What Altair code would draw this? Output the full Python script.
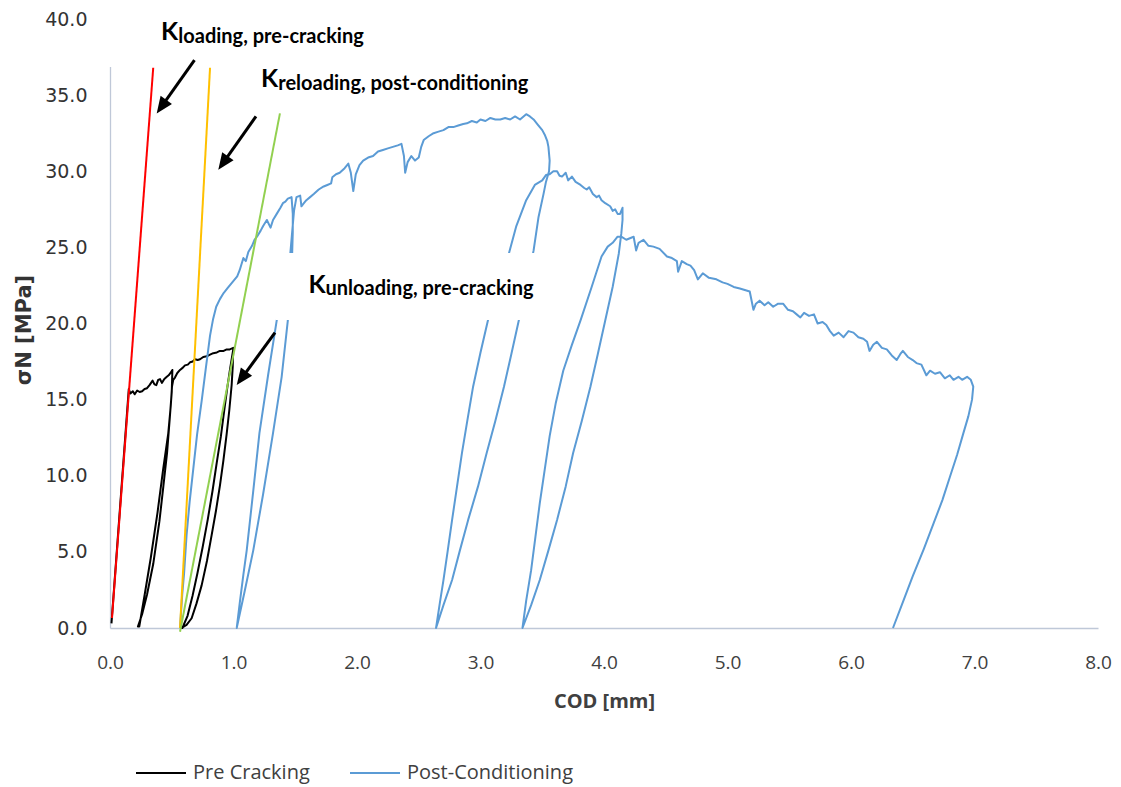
import math
import altair as alt
import pandas as pd

# ---------------- data ----------------
pre_x = [0.012, 0.152, 0.165, 0.185, 0.200, 0.220, 0.240, 0.260, 0.280, 0.300, 0.320, 0.345,
         0.360, 0.375, 0.390, 0.405, 0.420, 0.440, 0.460, 0.475, 0.490, 0.505,
         0.500, 0.485, 0.462, 0.432, 0.400, 0.350, 0.300, 0.260, 0.226,
         0.237, 0.283, 0.330, 0.385, 0.430, 0.472, 0.492, 0.502, 0.512, 0.526, 0.545, 0.567,
         0.590, 0.607, 0.630, 0.648, 0.670, 0.688, 0.710, 0.729, 0.755, 0.783, 0.810, 0.836,
         0.865, 0.890, 0.920, 0.945, 0.970, 0.998,
         0.994, 0.985, 0.966, 0.944, 0.918, 0.891, 0.858, 0.823, 0.785, 0.742, 0.700, 0.661, 0.620, 0.580,
         0.586, 0.628, 0.668, 0.708, 0.750, 0.791, 0.830, 0.865, 0.898, 0.925, 0.950, 0.972, 0.990, 1.000]
pre_y = [0.3, 15.7, 15.4, 15.55, 15.35, 15.6, 15.5, 15.55, 15.7, 15.75, 15.95, 16.25,
         16.0, 15.95, 16.3, 16.35, 16.1, 16.35, 16.5, 16.6, 16.75, 16.95,
         15.5, 13.9, 11.5, 9.3, 7.0, 4.2, 2.2, 0.9, 0.1,
         0.1, 2.3, 4.6, 7.6, 10.4, 12.8, 14.6, 15.85, 16.3, 16.45, 16.75, 16.95,
         17.1, 17.25, 17.3, 17.45, 17.5, 17.65, 17.6, 17.65, 17.8, 17.85, 17.95, 18.05,
         18.1, 18.2, 18.2, 18.3, 18.3, 18.4,
         17.2, 15.96, 14.3, 12.7, 11.0, 9.4, 7.7, 6.1, 4.4, 2.8, 1.6, 0.64, 0.2, 0.0,
         0.0, 0.8, 2.1, 3.6, 5.3, 7.1, 9.0, 10.9, 12.6, 14.3, 15.8, 17.0, 17.9, 18.4]

post_x = [0.567, 0.575, 0.585, 0.600, 0.620, 0.645, 0.675, 0.705, 0.742, 0.775, 0.810, 0.835,
          0.860, 0.890, 0.920, 0.950, 0.970, 1.000, 1.030, 1.050, 1.080, 1.100, 1.120, 1.150,
          1.170, 1.190, 1.220, 1.240, 1.270, 1.300, 1.320, 1.350, 1.380, 1.400, 1.420, 1.440,
          1.470, 1.480,
          1.480, 1.475, 1.440, 1.390, 1.320, 1.240, 1.160, 1.090, 1.026,
          1.050, 1.080, 1.107, 1.160, 1.210, 1.280, 1.350, 1.410, 1.460, 1.475, 1.490, 1.510,
          1.540, 1.550, 1.570, 1.590, 1.620, 1.650, 1.690, 1.730, 1.760, 1.790, 1.800, 1.830,
          1.860, 1.900, 1.930, 1.950, 1.970, 1.990, 2.020, 2.050, 2.090, 2.130, 2.170, 2.210,
          2.250, 2.290, 2.330, 2.360, 2.380, 2.390, 2.410, 2.440, 2.470, 2.500, 2.520, 2.540,
          2.580, 2.620, 2.660, 2.700, 2.740, 2.780, 2.820, 2.860, 2.890, 2.930, 2.970, 3.000,
          3.040, 3.080, 3.120, 3.160, 3.200, 3.240, 3.280, 3.320, 3.370, 3.400, 3.430, 3.460,
          3.480, 3.500, 3.520, 3.540, 3.550, 3.560, 3.555,
          3.530, 3.510, 3.470, 3.430, 3.370, 3.310, 3.250, 3.190, 3.120, 3.050, 2.980, 2.900,
          2.830, 2.770, 2.700, 2.640,
          2.670, 2.700, 2.735, 2.770, 2.810, 2.850, 2.895, 2.940, 3.000, 3.060, 3.140, 3.230,
          3.290, 3.370, 3.440, 3.500, 3.530, 3.560, 3.590, 3.620, 3.640, 3.660, 3.690, 3.710,
          3.740, 3.770, 3.810, 3.840, 3.860, 3.880, 3.910, 3.940, 3.960, 3.980, 4.010, 4.050,
          4.070, 4.090, 4.110, 4.130, 4.150, 4.150, 4.140,
          4.120, 4.070, 4.010, 3.950, 3.890, 3.820, 3.750, 3.690, 3.620, 3.550, 3.480, 3.410, 3.340,
          3.370, 3.410, 3.445, 3.480, 3.520, 3.560, 3.610, 3.670, 3.740, 3.810, 3.900, 3.980,
          4.030, 4.070, 4.110, 4.140,
          4.180, 4.210, 4.240, 4.260, 4.280, 4.320, 4.360, 4.400, 4.450, 4.510, 4.550, 4.590,
          4.600, 4.630, 4.670, 4.700, 4.730, 4.760, 4.800, 4.850, 4.910, 4.960, 5.000, 5.050,
          5.100, 5.140, 5.180, 5.210, 5.230, 5.260, 5.300, 5.330, 5.370, 5.410, 5.450, 5.490,
          5.530, 5.560, 5.590, 5.620, 5.660, 5.700, 5.730, 5.770, 5.800, 5.830, 5.860, 5.900,
          5.940, 5.980, 6.020, 6.060, 6.100, 6.130, 6.150, 6.180, 6.210, 6.250, 6.290, 6.330,
          6.370, 6.400, 6.420, 6.460, 6.500, 6.530, 6.570, 6.610, 6.640, 6.680, 6.720, 6.760,
          6.800, 6.830, 6.870, 6.900, 6.940, 6.970, 6.990,
          6.980, 6.950, 6.910, 6.860, 6.800, 6.740, 6.670, 6.590, 6.500, 6.420, 6.340]
post_y = [0.0, 1.0, 2.2, 3.6, 6.1, 8.3, 10.5, 12.7, 14.9, 17.0, 19.2, 20.3,
          21.1, 21.6, 22.0, 22.3, 22.5, 22.8, 23.1, 23.5, 24.3, 24.1, 24.7, 25.1,
          25.5, 25.7, 26.1, 26.4, 26.8, 26.3, 26.8, 27.2, 27.6, 27.9, 28.0, 28.2,
          28.3, 27.2,
          26.0, 24.6, 20.2, 16.5, 12.8, 8.8, 5.1, 2.4, 0.0,
          1.6, 3.5, 5.1, 9.0, 12.8, 16.6, 20.2, 22.6, 24.6, 26.0, 27.4, 28.3,
          28.4, 27.7, 27.9, 28.1, 28.3, 28.5, 28.8, 29.0, 29.1, 29.2, 29.6, 29.8,
          29.9, 30.2, 30.5, 29.9, 28.7, 29.8, 30.4, 30.7, 30.9, 31.0, 31.3, 31.4,
          31.5, 31.6, 31.7, 31.8, 31.0, 29.9, 30.6, 31.0, 30.7, 30.9, 31.6, 32.05,
          32.3, 32.5, 32.6, 32.7, 32.9, 32.9, 33.0, 33.1, 33.15, 33.3, 33.2, 33.4,
          33.3, 33.5, 33.4, 33.4, 33.5, 33.4, 33.6, 33.4, 33.75, 33.6, 33.4, 33.1,
          32.9, 32.7, 32.4, 32.0, 31.6, 30.7, 30.0,
          29.3, 28.5, 27.0, 24.8, 22.4, 20.2, 18.0, 15.85, 13.6, 11.5, 9.3, 7.1,
          5.0, 3.15, 1.5, 0.0,
          1.6, 3.15, 5.1, 7.1, 9.3, 11.5, 13.7, 15.85, 18.1, 20.2, 22.5, 24.6,
          26.4, 28.1, 29.1, 29.4, 29.75, 29.8, 30.0, 30.0, 29.7, 29.65, 29.9, 29.4,
          29.65, 29.3, 29.1, 28.9, 28.8, 28.95, 28.5, 28.3, 28.4, 28.1, 27.9, 27.7,
          27.4, 27.5, 27.2, 27.2, 27.6, 26.8, 25.9,
          24.6, 22.4, 20.2, 18.0, 15.85, 13.6, 11.5, 9.3, 7.1, 5.1, 3.15, 1.5, 0.0,
          1.8, 3.8, 6.0, 8.2, 10.4, 12.6, 14.8, 16.9, 18.6, 20.2, 22.4, 24.4,
          25.05, 25.3, 25.7, 25.7,
          25.5, 25.6, 25.7, 24.8, 25.3, 25.5, 25.1, 25.05, 24.9, 24.4, 24.3, 24.1,
          23.4, 24.1, 23.9, 23.8, 23.5, 22.9, 23.3, 23.0, 22.9, 22.7, 22.6, 22.4,
          22.3, 22.2, 22.1, 20.9, 21.3, 21.5, 21.2, 21.4, 21.1, 21.3, 21.3, 20.9,
          20.8, 20.6, 20.4, 20.7, 20.5, 20.6, 20.0, 20.1, 19.9, 19.5, 19.2, 19.4,
          19.1, 19.5, 19.4, 19.1, 19.0, 18.8, 18.2, 18.6, 18.8, 18.4, 18.3, 17.9,
          17.6, 18.0, 18.2, 17.8, 17.6, 17.4, 17.3, 16.6, 16.9, 16.7, 16.8, 16.4,
          16.6, 16.3, 16.5, 16.3, 16.5, 16.3, 15.85,
          15.0, 13.9, 12.8, 11.4, 9.9, 8.4, 6.9, 5.2, 3.4, 1.7, 0.0]

series_names = ["Pre Cracking", "Post-Conditioning"]
series_colors = ["#000000", "#5B9BD5"]

# stiffness lines (start / end)
k_x0 = [0.016, 0.567, 0.567]
k_y0 = [0.66, 0.0, -0.25]
k_x1 = [0.350, 0.810, 1.376]
k_y1 = [36.8, 36.8, 33.8]
k_colors = ["#FF0000", "#FFC000", "#92D050"]

# annotation labels
lab_sub = ["loading, pre-cracking", "reloading, post-conditioning", "unloading, pre-cracking"]
lab_kx = [0.413, 1.222, 1.608]
lab_ky = [38.6, 35.53, 22.0]
lab_sx = [0.553, 1.362, 1.745]
lab_sy = [38.4, 35.34, 21.87]

# arrows (tail -> tip)
arr_tx = [0.684, 1.182, 1.336]
arr_ty = [37.3, 33.6, 19.4]
arr_hx = [0.378, 0.877, 1.026]
arr_hy = [33.8, 30.1, 15.96]

# white label backgrounds that hide parts of the plot
box_x0 = [-0.10, 1.34]
box_x1 = [2.00, 3.78]
box_y0 = [36.85, 20.23]
box_y1 = [40.60, 24.63]

# ---------------- chart ----------------
W, H = 988, 609
XMAX, YMAX = 8, 40
SX, SY = W / XMAX, H / YMAX

rows = []
for name, xs, ys in [(series_names[0], pre_x, pre_y), (series_names[1], post_x, post_y)]:
    for i, (a, b) in enumerate(zip(xs, ys)):
        rows.append({"series": name, "i": i, "x": a, "y": b})
curves = pd.DataFrame(rows)

xscale = alt.Scale(domain=[0, XMAX], nice=False, zero=False)
yscale = alt.Scale(domain=[0, YMAX], nice=False, zero=False)

x_axis = alt.Axis(values=list(range(0, 9)), format=".1f", title="COD [mm]",
                  labelFont="Open Sans", labelFontSize=19, labelColor="#404040",
                  labelPadding=40, labelBaseline="alphabetic", labelFlush=False,
                  labelOverlap=False,
                  titleFont="Open Sans", titleFontSize=20, titleFontWeight="bold",
                  titleColor="#404040", titleY=79, titleBaseline="alphabetic")
y_axis = alt.Axis(values=list(range(0, 41, 5)), format=".1f", title="σN [MPa]",
                  labelFont="DejaVu Sans", labelFontSize=19, labelColor="#333333",
                  labelPadding=23, labelFlush=False, labelOverlap=False,
                  titleFont="DejaVu Sans", titleFontSize=21, titleFontWeight="bold",
                  titleColor="#333333", titleAngle=270, titleX=-86, titleY=H / 2 + 6,
                  titleAlign="center", titleBaseline="middle")

lines = alt.Chart(curves).mark_line(strokeWidth=2, strokeJoin="round").encode(
    x=alt.X("x:Q", scale=xscale, axis=x_axis),
    y=alt.Y("y:Q", scale=yscale, axis=y_axis),
    color=alt.Color("series:N",
                    scale=alt.Scale(domain=series_names, range=series_colors),
                    legend=alt.Legend(orient="none", legendX=25, legendY=728,
                                      direction="horizontal", title=None,
                                      symbolType="stroke", symbolSize=2500,
                                      symbolStrokeWidth=2,
                                      labelFont="Open Sans", labelFontSize=20,
                                      labelColor="#404040", labelOffset=6,
                                      labelLimit=0, columnPadding=36)),
    order=alt.Order("i:Q"),
)

layers = [lines]
for j in range(3):
    kdf = pd.DataFrame({"x": [k_x0[j]], "y": [k_y0[j]], "x2": [k_x1[j]], "y2": [k_y1[j]]})
    layers.append(alt.Chart(kdf).mark_rule(color=k_colors[j], strokeWidth=2).encode(
        x=alt.X("x:Q", scale=xscale), y=alt.Y("y:Q", scale=yscale), x2="x2:Q", y2="y2:Q"))

boxes = pd.DataFrame({"x": box_x0, "x2": box_x1, "y": box_y0, "y2": box_y1})
layers.append(alt.Chart(boxes).mark_rect(fill="white", stroke=None).encode(
    x=alt.X("x:Q", scale=xscale), x2="x2:Q", y=alt.Y("y:Q", scale=yscale), y2="y2:Q"))

# arrows
arows = []
for tx, ty, hx, hy in zip(arr_tx, arr_ty, arr_hx, arr_hy):
    dxp = (hx - tx) * SX
    dyp = -(hy - ty) * SY
    L = math.hypot(dxp, dyp)
    ang = math.degrees(math.atan2(dxp, -dyp)) % 360
    f = 12.0 / L
    arows.append({"tx": tx, "ty": ty, "ex": hx + (tx - hx) * f, "ey": hy + (ty - hy) * f,
                  "hx": hx, "hy": hy, "ang": ang})
adf = pd.DataFrame(arows)
layers.append(alt.Chart(adf).mark_rule(color="black", strokeWidth=3).encode(
    x=alt.X("tx:Q", scale=xscale), y=alt.Y("ty:Q", scale=yscale), x2="ex:Q", y2="ey:Q"))
layers.append(alt.Chart(adf).mark_point(shape="M0,0L0.42,1L-0.42,1Z", filled=True,
                                        color="black", size=1100, opacity=1).encode(
    x=alt.X("hx:Q", scale=xscale), y=alt.Y("hy:Q", scale=yscale),
    angle=alt.Angle("ang:Q", scale=None)))

# labels
ldf = pd.DataFrame({"kx": lab_kx, "ky": lab_ky, "sx": lab_sx, "sy": lab_sy,
                    "k": ["K"] * 3, "sub": lab_sub})
layers.append(alt.Chart(ldf).mark_text(font="Lato", fontWeight="bold", fontSize=25,
                                       align="left", baseline="alphabetic", color="black").encode(
    x=alt.X("kx:Q", scale=xscale), y=alt.Y("ky:Q", scale=yscale), text="k:N"))
layers.append(alt.Chart(ldf).mark_text(font="Lato", fontWeight="bold", fontSize=20,
                                       align="left", baseline="alphabetic", color="black").encode(
    x=alt.X("sx:Q", scale=xscale), y=alt.Y("sy:Q", scale=yscale), text="sub:N"))

chart = alt.layer(*layers).properties(
    width=W, height=H,
    autosize=alt.AutoSizeParams(type="none"),
    padding={"left": 102, "top": 11, "right": 15, "bottom": 158},
).configure_view(stroke=None).configure_axis(
    grid=False, ticks=False, tickSize=0, domainColor="#BFC8D8", domainWidth=1.3, zindex=0
)

chart.save("out.html", embed_options={"renderer": "svg", "actions": False})
